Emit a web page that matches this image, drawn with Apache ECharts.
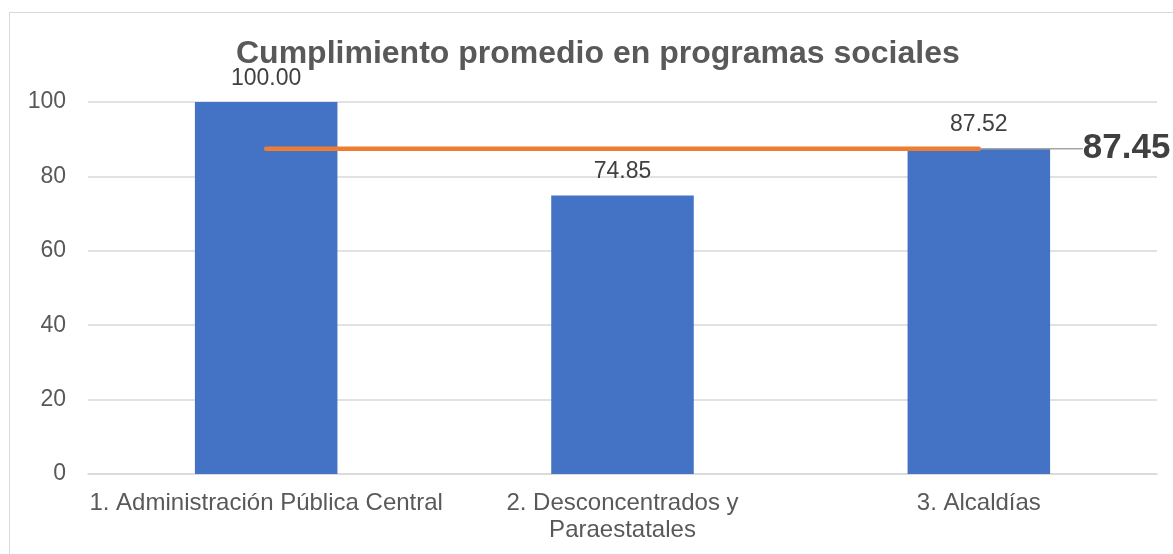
<!DOCTYPE html>
<html>
<head>
<meta charset="utf-8">
<script src="https://cdn.jsdelivr.net/npm/echarts@6/dist/echarts.min.js"></script>
<style>
  html, body { margin: 0; padding: 0; background: #fff; overflow: hidden; }
  #frame { position: absolute; left: 9px; top: 12px; width: 1200px; height: 600px; border: 1px solid #d9d9d9; box-sizing: border-box; }
  #chart { position: absolute; left: 0; top: 0; width: 1173px; height: 554px; }
</style>
</head>
<body>
<div id="frame"></div>
<div id="chart"></div>
<script>
// datos
const categorias = ['1. Administración Pública Central', '2. Desconcentrados y\nParaestatales', '3. Alcaldías']
const cumplimiento = [100.00, 74.85, 87.52]
const promedio = 87.45
const promedioSerie = categorias.map(() => promedio)

const chart = echarts.init(document.getElementById('chart'))

const option = {
  animation: false,
  title: {
    text: 'Cumplimiento promedio en programas sociales',
    left: 231,
    top: 33,
    textStyle: { fontFamily: 'Liberation Sans', fontSize: 32, fontWeight: 'bold', color: '#595959' }
  },
  grid: { left: 88, right: 16, top: 102, bottom: 80 },
  xAxis: {
    type: 'category',
    data: categorias,
    axisLine: { lineStyle: { color: '#d9d9d9', width: 1.5 } },
    axisTick: { show: false },
    axisLabel: {
      interval: 0,
      margin: 16,
      fontFamily: 'Liberation Sans',
      fontSize: 24,
      lineHeight: 27,
      color: '#595959'
    }
  },
  yAxis: {
    type: 'value',
    min: 0,
    max: 100,
    interval: 20,
    axisLine: { show: false },
    axisTick: { show: false },
    splitLine: { lineStyle: { color: '#d9d9d9', width: 1.5 } },
    axisLabel: { margin: 22, fontFamily: 'Liberation Sans', fontSize: 23, color: '#595959' }
  },
  series: [
    {
      name: 'Cumplimiento',
      type: 'bar',
      data: cumplimiento,
      barWidth: '40%',
      itemStyle: { color: '#4472c4' },
      label: {
        show: true,
        position: 'top',
        distance: 12,
        fontFamily: 'Liberation Sans',
        fontSize: 23,
        color: '#404040',
        formatter: p => p.value.toFixed(2)
      }
    },
    {
      name: 'Promedio',
      type: 'line',
      symbol: 'none',
      data: promedioSerie.map((v, i) => i === promedioSerie.length - 1
        ? {
            value: v,
            symbol: 'circle',
            symbolSize: 2,
            label: {
              show: true,
              position: 'right',
              distance: 0,
              padding: [0, 0, 0, 8],
              fontFamily: 'Liberation Sans',
              fontSize: 35,
              fontWeight: 'bold',
              color: '#404040',
              formatter: p => p.value.toFixed(2)
            },
            labelLine: { show: true, lineStyle: { color: '#a5a5a5', width: 1.5 } }
          }
        : v),
      labelLayout: { dx: 95 },
      lineStyle: { color: '#ed7d31', width: 4.5, cap: 'round' },
      itemStyle: { color: '#ed7d31' },
      z: 5
    }
  ]
}
chart.setOption(option)
window.addEventListener('resize', () => { chart.resize() })
</script>
</body>
</html>
